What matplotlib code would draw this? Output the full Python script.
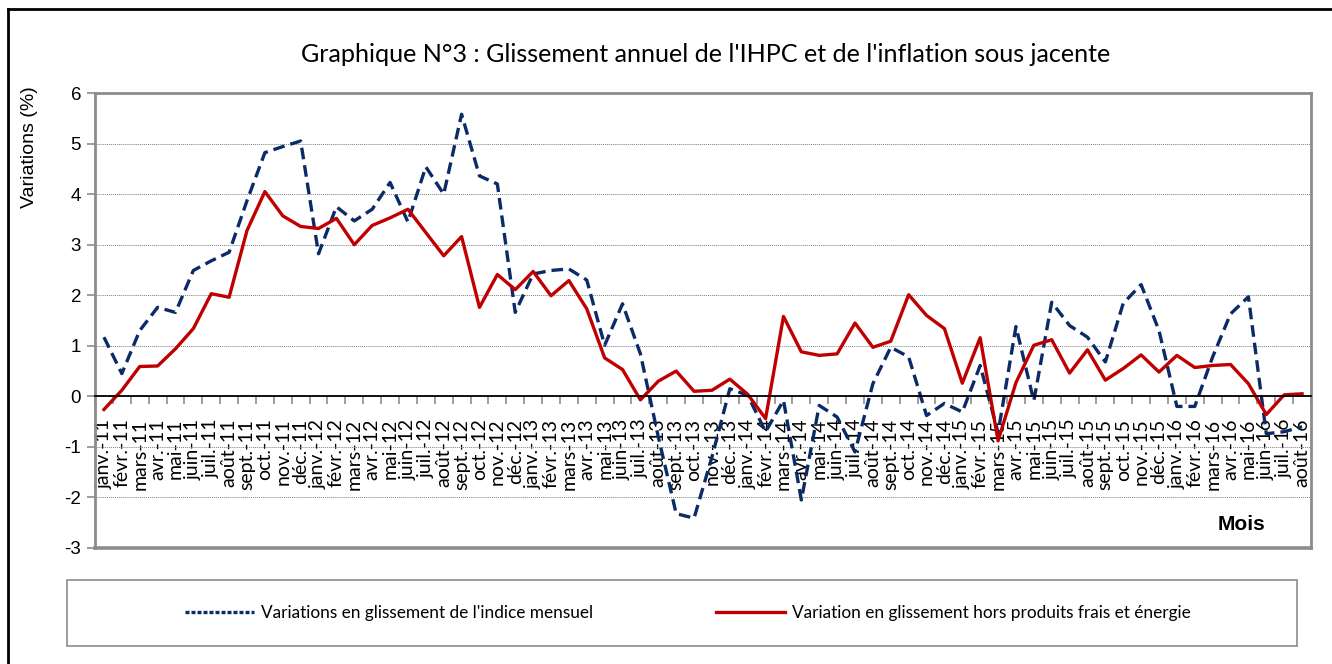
import numpy as np
import matplotlib
matplotlib.use("Agg")
import matplotlib.pyplot as plt
from matplotlib.lines import Line2D
from matplotlib.patches import Rectangle

# Month labels (janv.-11 ... août-16)
mois = ['janv.', 'févr.', 'mars', 'avr.', 'mai', 'juin',
        'juil.', 'août', 'sept.', 'oct.', 'nov.', 'déc.']
labels = [f"{m}-{a}" for a in range(11, 17) for m in mois][:68]

indice_mensuel = [
    1.17, 0.45, 1.30, 1.76, 1.66, 2.49, 2.68, 2.85, 3.87, 4.82, 4.94, 5.05,
    2.82, 3.75, 3.47, 3.70, 4.23, 3.45, 4.54, 4.00, 5.58, 4.36, 4.20, 1.66,
    2.42, 2.49, 2.52, 2.30, 1.01, 1.83, 0.84, -0.80, -2.32, -2.41, -1.20, 0.15,
    0.02, -0.70, -0.08, -2.05, -0.18, -0.41, -1.10, 0.25, 0.97, 0.78, -0.38, -0.14,
    -0.31, 0.61, -0.72, 1.38, -0.09, 1.86, 1.40, 1.17, 0.68, 1.84, 2.21, 1.30,
    -0.20, -0.20, 0.78, 1.63, 1.97, -0.74, -0.70, -0.60,
]
hors_frais_energie = [
    -0.26, 0.12, 0.59, 0.60, 0.94, 1.34, 2.03, 1.96, 3.28, 4.05, 3.57, 3.36,
    3.32, 3.52, 3.00, 3.38, 3.53, 3.70, 3.24, 2.78, 3.16, 1.76, 2.41, 2.11,
    2.47, 1.99, 2.29, 1.73, 0.76, 0.53, -0.07, 0.30, 0.50, 0.10, 0.12, 0.34,
    0.04, -0.44, 1.58, 0.88, 0.81, 0.84, 1.45, 0.97, 1.09, 2.01, 1.60, 1.34,
    0.26, 1.16, -0.88, 0.27, 1.01, 1.12, 0.46, 0.92, 0.32, 0.55, 0.82, 0.48,
    0.81, 0.57, 0.61, 0.63, 0.25, -0.36, 0.03, 0.05,
]

narrow = ['Lato', 'DejaVu Sans']
arial = ['Liberation Sans', 'DejaVu Sans']
plt.rcParams['font.family'] = arial
plt.rcParams['axes.unicode_minus'] = False

blue = '#0B2A66'
red = '#C00000'
grey = '#8C8C8C'

W, H = 1332, 664
fig = plt.figure(figsize=(W / 100, H / 100), dpi=100)
ax = fig.add_axes([95 / W, 1 - 548 / H, (1311 - 95) / W, (548 - 93) / H])

x = np.arange(len(labels))
ax.plot(x, indice_mensuel, color=blue, lw=2.4, dashes=(3.5, 1.8),
        label="Variations en glissement de l'indice mensuel")
ax.plot(x, hors_frais_energie, color=red, lw=2.4,
        label="Variation en glissement hors produits frais et énergie")

ax.set_xlim(-0.5, len(labels) - 0.5)
ax.set_ylim(-3, 6)
ax.set_yticks(range(-3, 7))
ax.tick_params(axis='y', direction='out', length=6, width=1.2, color=grey,
               labelsize=13.5, pad=4)
ax.yaxis.grid(True, linestyle=(0, (1, 1)), color='#7F7F7F', lw=0.7)
ax.set_axisbelow(True)

# category axis crossing at zero, tick marks between categories
ax.spines['bottom'].set_position(('data', 0))
ax.spines['bottom'].set_color('black')
ax.spines['bottom'].set_linewidth(1.3)
for s in ['left', 'top', 'right']:
    ax.spines[s].set_color(grey)
    ax.spines[s].set_linewidth(2)
ax.axhline(-3, color=grey, lw=2.6, clip_on=False, zorder=3)

ax.set_xticks(x)
ax.set_xticklabels(labels, rotation=90, family=narrow, fontsize=14)
ax.tick_params(axis='x', which='major', length=0, pad=16)
ax.set_xticks(np.arange(-0.5, len(labels), 1), minor=True)
ax.tick_params(axis='x', which='minor', direction='out', length=6, width=1.2, color=grey)

fig.text(1218 / W, 1 - 524 / H, 'Mois', fontsize=15, fontweight='bold',
         ha='left', va='center')
fig.text(30 / W, 1 - 147 / H, 'Variations (%)', rotation=90, fontsize=14,
         ha='center', va='center')
fig.text(706 / W, 1 - 55 / H,
         "Graphique N°3 : Glissement annuel de l'IHPC et de l'inflation sous jacente",
         family=narrow, fontsize=18.1, ha='center', va='center')

# legend box
fig.add_artist(Rectangle((67 / W, 1 - 646 / H), (1297 - 67) / W, 66 / H,
                         transform=fig.transFigure, fill=False,
                         edgecolor='#8C8C8C', lw=1.2))
handles = [Line2D([], [], color=blue, lw=2.4, dashes=(1.2, 0.6)),
           Line2D([], [], color=red, lw=2.4)]
fig.legend(handles, [l.get_label() for l in ax.get_lines()],
           loc='center', bbox_to_anchor=(688 / W, 1 - 613 / H), ncol=2,
           frameon=False, prop={'family': narrow, 'size': 12.4},
           handlelength=4.0, handletextpad=0.45, columnspacing=7.1)

# outer frame of the picture
fig.add_artist(Line2D([8 / W, 8 / W], [0, 1 - 9 / H], transform=fig.transFigure,
                      color='black', lw=2))
fig.add_artist(Line2D([8 / W, 1], [1 - 9 / H, 1 - 9 / H], transform=fig.transFigure,
                      color='black', lw=2))

fig.savefig('out.png', dpi=100)
